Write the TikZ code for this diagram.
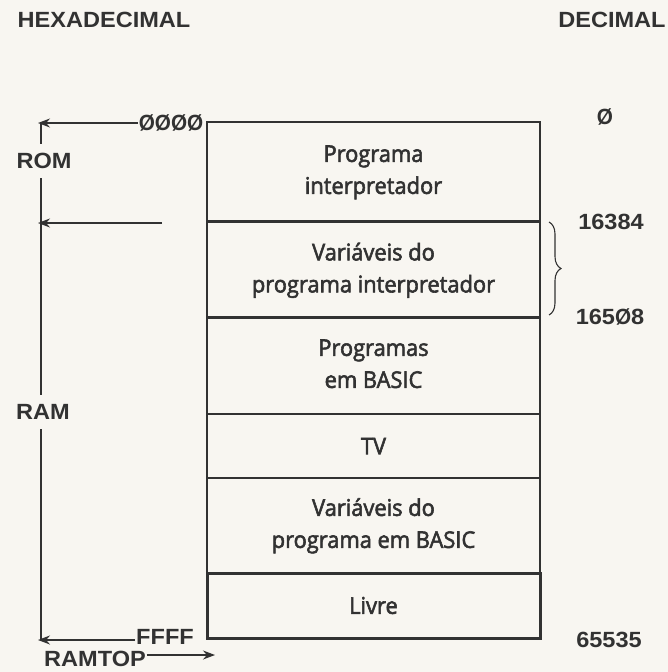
\documentclass[tikz,border=0pt]{standalone}
\usepackage{fontspec}
\setmainfont{Liberation Sans}
\newfontfamily\boxfont[FakeBold=2.5]{Open Sans}
\usetikzlibrary{arrows.meta,decorations.pathreplacing}
\definecolor{bg}{RGB}{248,246,241}
\definecolor{ink}{RGB}{50,50,50}
\newcommand\sx[1]{\scalebox{1.07}[1]{#1}}
\newcommand\cellsx[1]{\scalebox{0.95}[1]{#1}}
\newcommand\sz[1]{\scalebox{0.88}[1]{#1}}
\begin{document}
\begin{tikzpicture}[x=1pt,y=-1pt,
  lab/.style={text=ink, font=\bfseries\fontsize{22}{24}\selectfont, inner sep=1pt},
  cell/.style={draw=ink, line width=1.2pt, text=ink, font=\boxfont\fontsize{23}{32}\selectfont,
    minimum width=333pt, inner sep=0pt, align=center},
  ln/.style={draw=ink, line width=1.2pt},
  arr/.style={ln, -{Stealth[length=12pt,width=9pt]}},
  gaplab/.style={lab, fill=bg, inner xsep=2pt, inner ysep=9pt}
]
\fill[bg] (0,0) rectangle (668,672);
\path[use as bounding box] (0,0) rectangle (668,672);

% memory map
\node[cell, minimum height=99pt] (r1) at (373.5,171.5) {\cellsx{\begin{tabular}{@{}c@{}}Programa\\interpretador\end{tabular}}};
\node[cell, minimum height=96pt] (r2) at (373.5,270) {\cellsx{\begin{tabular}{@{}c@{}}Variáveis do\\programa interpretador\end{tabular}}};
\node[cell, minimum height=97pt] (r3) at (373.5,365.5) {\cellsx{\begin{tabular}{@{}c@{}}Programas\\em BASIC\end{tabular}}};
\node[cell, minimum height=64pt] (r4) at (373.5,446) {\cellsx{TV}};
\node[cell, minimum height=95pt] (r5) at (373.5,525.5) {\cellsx{\begin{tabular}{@{}c@{}}Variáveis do\\programa em BASIC\end{tabular}}};
\node[cell, line width=3pt, minimum height=65pt] (r6) at (373.5,605.5) {\cellsx{Livre}};

% headings
\node[lab] (hex) at (104,20) {\sx{HEXADECIMAL}};
\node[lab] (dec) at (612,20) {\sx{DECIMAL}};

% left side
\coordinate (tl) at (41,123);
\coordinate (bl) at (41,640);
\node[lab] (h0) at (171,123) {\sz{\sx{ØØØØ}}};
\node[lab] (hf) at (165,637) {\sx{FFFF}};
\draw[ln] (tl) -- (bl);
\draw[arr] (h0.west) -- ([xshift=-3pt]tl);
\coordinate (a2s) at (162,223);
\coordinate (a2e) at (38,223);
\draw[arr] (a2s) -- (a2e);
\draw[arr] (hf.west |- bl) -- ([xshift=-3pt]bl);
\node[gaplab] (rom) at (44,161) {\sx{ROM}};
\node[gaplab] (ram) at (43,412) {\sx{RAM}};
\node[lab] (rt) at (95,659) {\sx{RAMTOP}};
\coordinate (rtend) at (215,655);
\draw[arr] (rt.east |- rtend) -- (rtend);

% right side
\node[lab] (d0) at (605,117) {\sz{\sx{Ø}}};
\node[lab] (d1) at (611,222) {\sx{16384}};
\node[lab] (d2) at (610,317) {\sx{165\sz{Ø}8}};
\node[lab] (d3) at (609,640) {\sx{65535}};
\coordinate (b1) at (549,222);
\coordinate (b2) at (549,315);
\draw[ink, line width=1.1pt, decorate, decoration={brace, amplitude=12pt}] (b1) -- (b2);
\end{tikzpicture}
\end{document}
